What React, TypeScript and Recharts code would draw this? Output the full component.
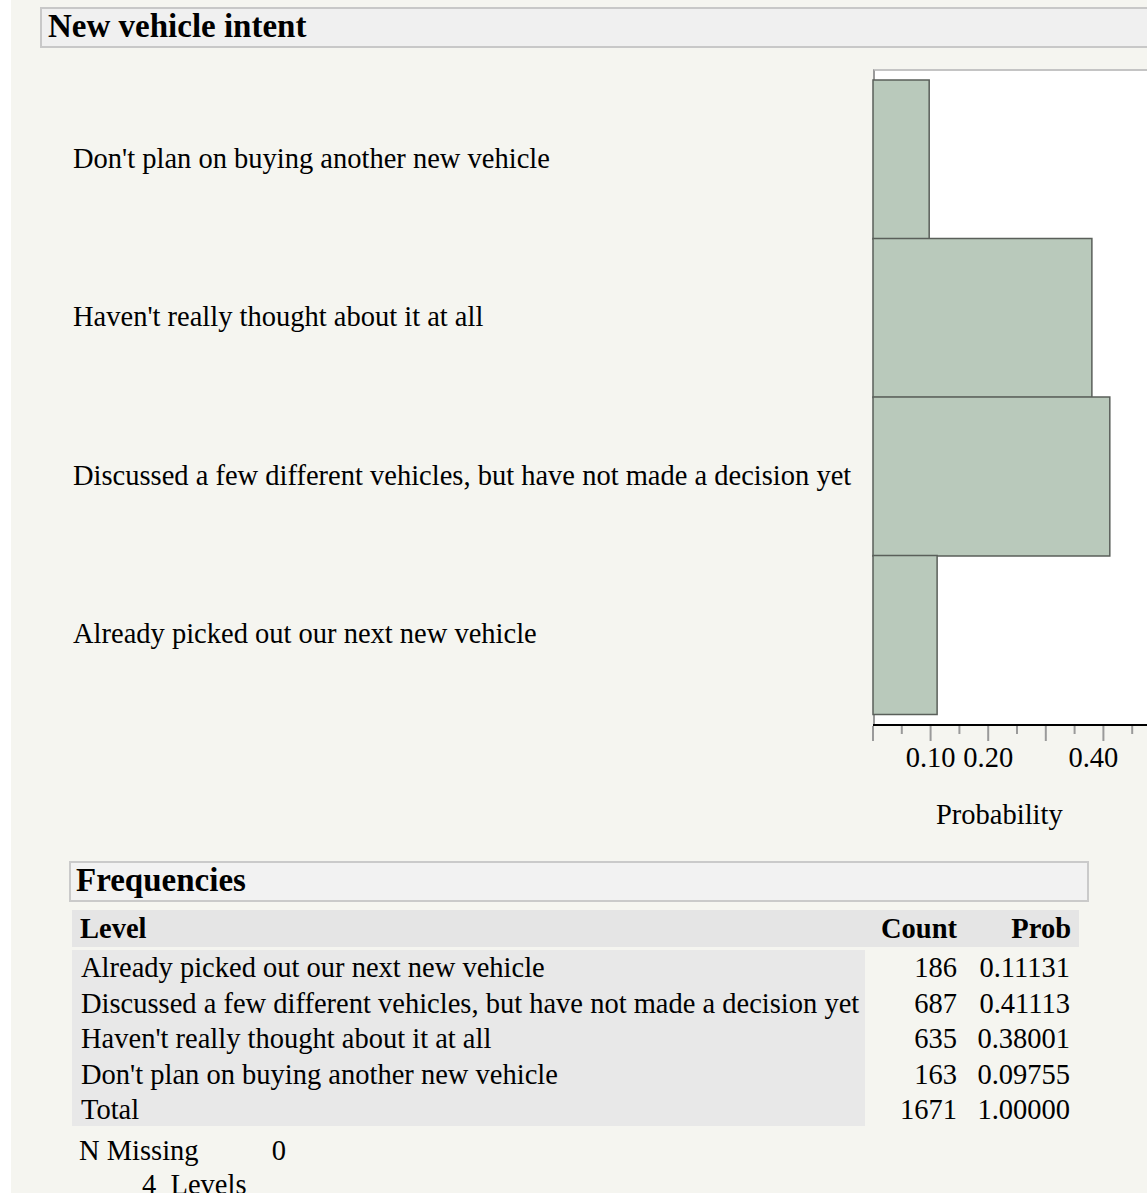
import React from 'react';
import { BarChart, Bar, XAxis, YAxis } from 'recharts';

const levels = [
  'Already picked out our next new vehicle',
  'Discussed a few different vehicles, but have not made a decision yet',
  "Haven't really thought about it at all",
  "Don't plan on buying another new vehicle",
];
const counts = [186, 687, 635, 163];
const probs = [0.11131, 0.41113, 0.38001, 0.09755];
const totalCount = 1671;
const totalProb = '1.00000';
const axisTicks = [0, 0.05, 0.1, 0.15, 0.2, 0.25, 0.3, 0.35, 0.4, 0.45, 0.5];
const majorTicks = [0, 0.1, 0.2, 0.3, 0.4, 0.5];
const labeledTicks = [0.1, 0.2, 0.4];
const nMissing = 0;
const nLevels = 4;

const chartData = levels.map((l, i) => ({ level: l, prob: probs[i] })).reverse();

const FONT = "'Liberation Serif', 'Times New Roman', serif";
const FS = 28.5;
const TITLE_FS = 33;
const TICK_SIZE = 16;
const TICK_MARGIN = 6;

const CategoryTick = (props: any) => {
  const { y, payload } = props;
  return (
    <text x={73} y={y} dy="0.3em" fontSize={FS} fontFamily={FONT} fill="#000" textAnchor="start">
      {payload.value}
    </text>
  );
};

const ProbTick = (props: any) => {
  const { x, y, payload } = props;
  const v = Math.round(payload.value * 100) / 100;
  const axisY = y - TICK_SIZE - TICK_MARGIN;
  const isMajor = majorTicks.some((t) => Math.abs(t - v) < 1e-9);
  const len = isMajor ? 16 : 9;
  const showLabel = labeledTicks.some((t) => Math.abs(t - v) < 1e-9);
  const shift = v === 0.4 ? -10 : 0;
  return (
    <g>
      <line x1={x} x2={x} y1={axisY + 1} y2={axisY + len} stroke="#9a9a9a" strokeWidth={2} />
      {showLabel && (
        <text x={x + shift} y={y} dy={20} textAnchor="middle" fontSize={FS} fontFamily={FONT} fill="#000">
          {v.toFixed(2)}
        </text>
      )}
    </g>
  );
};

const abs = (l: number, t: number, extra: React.CSSProperties = {}): React.CSSProperties => ({
  position: 'absolute',
  left: l,
  top: t,
  ...extra,
});

export default function App() {
  const rowTop = 950;
  const rowH = 35.5;
  const tableRows = [
    ...levels.map((l, i) => ({ level: l, count: String(counts[i]), prob: probs[i].toFixed(5) })),
    { level: 'Total', count: String(totalCount), prob: totalProb },
  ];
  return (
    <div
      style={{
        position: 'absolute',
        left: 0,
        top: 0,
        width: 1147,
        height: 1193,
        overflow: 'hidden',
        background: '#ffffff',
        fontFamily: FONT,
        color: '#000',
      }}
    >
      {/* panel background */}
      <div style={abs(11, 0, { width: 1200, height: 1193, background: '#f5f5f0' })} />
      {/* title box */}
      <div
        style={abs(40, 7, {
          width: 1140,
          height: 41,
          background: '#f0f0f0',
          border: '2px solid #c8c8c8',
          fontSize: TITLE_FS,
          fontWeight: 'bold',
          lineHeight: '34px',
          paddingLeft: 6,
          boxSizing: 'border-box',
          whiteSpace: 'nowrap',
        })}
      >
        New vehicle intent
      </div>
      {/* plot frame */}
      <div
        style={abs(873, 69, {
          width: 300,
          height: 656,
          background: '#ffffff',
          borderTop: '2px solid #c4c4c4',
          borderLeft: '2px solid #9a9a9a',
          boxSizing: 'border-box',
        })}
      />
      <div style={abs(0, 0)}>
        <BarChart
          width={1181}
          height={800}
          data={chartData}
          layout="vertical"
          margin={{ top: 69, right: 20, bottom: 0, left: 0 }}
          barCategoryGap={0}
        >
          <XAxis
            type="number"
            dataKey="prob"
            domain={[0, 0.5]}
            ticks={axisTicks}
            interval={0}
            allowDecimals
            height={75}
            tickSize={TICK_SIZE}
            tickMargin={TICK_MARGIN}
            tickLine={false}
            axisLine={{ stroke: '#000', strokeWidth: 2 }}
            tick={<ProbTick />}
          />
          <YAxis
            type="category"
            dataKey="level"
            width={873}
            axisLine={false}
            tickLine={false}
            padding={{ top: 11, bottom: 11 }}
            tick={<CategoryTick />}
            interval={0}
          />
          <Bar dataKey="prob" fill="#b9c9bb" stroke="#5a5f5a" strokeWidth={1.5} isAnimationActive={false} />
        </BarChart>
      </div>
      <div style={abs(936, 800, { fontSize: FS, lineHeight: '30px' })}>Probability</div>

      {/* Frequencies section */}
      <div
        style={abs(69, 861, {
          width: 1020,
          height: 41,
          background: '#f2f2f2',
          border: '2px solid #cacaca',
          fontSize: TITLE_FS,
          fontWeight: 'bold',
          lineHeight: '34px',
          paddingLeft: 5,
          boxSizing: 'border-box',
        })}
      >
        Frequencies
      </div>
      <div style={abs(72, 910, { width: 1007, height: 37, background: '#e5e5e5' })} />
      <div style={abs(80, 910, { fontSize: FS, fontWeight: 'bold', lineHeight: '37px' })}>Level</div>
      <div style={abs(850, 910, { width: 107, textAlign: 'right', fontSize: FS, fontWeight: 'bold', lineHeight: '37px' })}>
        Count
      </div>
      <div style={abs(960, 910, { width: 111, textAlign: 'right', fontSize: FS, fontWeight: 'bold', lineHeight: '37px' })}>
        Prob
      </div>
      <div style={abs(72, 950, { width: 793, height: 176, background: '#e8e8e8' })} />
      {tableRows.map((r, i) => (
        <React.Fragment key={r.level}>
          <div style={abs(81, rowTop + i * rowH, { fontSize: FS, lineHeight: `${rowH}px`, whiteSpace: 'nowrap' })}>{r.level}</div>
          <div style={abs(860, rowTop + i * rowH, { width: 97, textAlign: 'right', fontSize: FS, lineHeight: `${rowH}px` })}>
            {r.count}
          </div>
          <div style={abs(950, rowTop + i * rowH, { width: 120, textAlign: 'right', fontSize: FS, lineHeight: `${rowH}px` })}>
            {r.prob}
          </div>
        </React.Fragment>
      ))}
      <div style={abs(79, 1134, { fontSize: FS, lineHeight: '34px' })}>N Missing</div>
      <div style={abs(200, 1134, { width: 86, textAlign: 'right', fontSize: FS, lineHeight: '34px' })}>{nMissing}</div>
      <div style={abs(142, 1168, { fontSize: FS, lineHeight: '34px', whiteSpace: 'pre' })}>{`${nLevels}  Levels`}</div>
    </div>
  );
}
